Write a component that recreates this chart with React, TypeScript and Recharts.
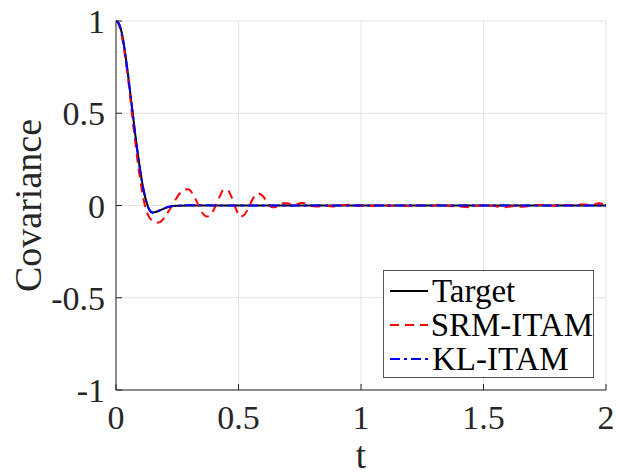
import React from 'react';
import { LineChart, Line, XAxis, YAxis, CartesianGrid } from 'recharts';

// ─── Data ─────────────────────────────────────────────────────────────────────

const X_TICKS = [0, 0.5, 1, 1.5, 2];
const Y_TICKS = [-1, -0.5, 0, 0.5, 1];

const T_TARGET = [0, 0.01, 0.02, 0.03, 0.04, 0.05, 0.06, 0.07, 0.08, 0.09, 0.1, 0.11, 0.12, 0.13, 0.14, 0.15, 0.16, 0.18, 0.2, 0.22, 0.25, 0.3, 0.5, 1, 1.5, 2];
const TARGET = [1, 0.99, 0.955, 0.89, 0.8, 0.7, 0.59, 0.48, 0.37, 0.27, 0.18, 0.1, 0.04, -0.005, -0.03, -0.038, -0.036, -0.026, -0.014, -0.006, -0.001, 0, 0, 0, 0, 0];
const KL_ITAM = [1, 0.99, 0.953, 0.888, 0.8, 0.7, 0.59, 0.48, 0.37, 0.27, 0.18, 0.1, 0.04, -0.006, -0.031, -0.039, -0.036, -0.025, -0.013, -0.005, -0.001, 0.001, 0, 0, 0, 0];

const T_SRM = [
  0, 0.01, 0.02, 0.03, 0.04, 0.05, 0.06, 0.07, 0.08, 0.09, 0.1, 0.11, 0.12, 0.13, 0.145, 0.165, 0.18, 0.2, 0.22, 0.24,
  0.26, 0.28, 0.295, 0.31, 0.33, 0.35, 0.37, 0.385, 0.4, 0.42, 0.44, 0.455, 0.47, 0.49, 0.505, 0.52, 0.54, 0.56, 0.58, 0.6,
  0.62, 0.64, 0.66, 0.68, 0.7, 0.72, 0.74, 0.76, 0.78, 0.8, 0.83, 0.86, 0.89, 0.92, 0.95, 0.98, 1.01, 1.04, 1.08, 1.12,
  1.16, 1.2, 1.24, 1.28, 1.32, 1.36, 1.4, 1.44, 1.47, 1.51, 1.55, 1.58, 1.62, 1.66, 1.7, 1.74, 1.78, 1.82, 1.86, 1.9,
  1.94, 1.97, 2,
];
const SRM_ITAM = [
  1, 0.985, 0.94, 0.87, 0.78, 0.68, 0.56, 0.44, 0.33, 0.22, 0.13, 0.05, -0.01, -0.05, -0.08, -0.093, -0.09, -0.06, -0.02, 0.025,
  0.065, 0.087, 0.088, 0.07, 0.02, -0.035, -0.06, -0.055, -0.02, 0.04, 0.085, 0.085, 0.05, -0.02, -0.06, -0.055, -0.015, 0.04, 0.065, 0.05,
  0.01, -0.01, -0.005, 0.012, 0.012, 0.005, 0.008, 0.015, 0.008, -0.003, -0.006, -0.002, -0.005, 0.002, 0.004, -0.003, 0.002, -0.003, 0.003, -0.002,
  0.002, -0.004, 0.001, -0.002, 0.003, -0.002, -0.005, -0.009, -0.002, 0.002, -0.004, -0.01, -0.004, -0.007, 0.001, 0.004, -0.002, 0.004, 0.002, 0.006,
  0.003, 0.012, 0.004,
];

const targetData = T_TARGET.map((t, i) => ({ t, v: TARGET[i] }));
const klData = T_TARGET.map((t, i) => ({ t, v: KL_ITAM[i] }));
const srmData = T_SRM.map((t, i) => ({ t, v: SRM_ITAM[i] }));

const FONT = '"Liberation Serif", "Times New Roman", serif';
const AXIS_COLOR = '#262626';

const SERIES = [
  { name: 'Target', color: '#000000', dash: undefined as string | undefined },
  { name: 'SRM-ITAM', color: '#ff0000', dash: '9 6' },
  { name: 'KL-ITAM', color: '#0000ff', dash: '10 4 3 4' },
];

// ─── Legend ───────────────────────────────────────────────────────────────────

function LegendBox() {
  return (
    <div
      style={{
        position: 'absolute', left: 383, top: 270, width: 211, height: 108,
        border: '1px solid #555', background: '#fff', fontFamily: FONT, fontSize: 33,
        color: '#000', paddingTop: 3, boxSizing: 'border-box', whiteSpace: 'nowrap',
      }}
    >
      {SERIES.map((s) => (
        <div key={s.name} style={{ display: 'flex', alignItems: 'center', height: 34, lineHeight: '34px' }}>
          <svg width={42} height={10} style={{ marginLeft: 6 }}>
            <line x1={0} y1={5} x2={38} y2={5} stroke={s.color} strokeWidth={2} strokeDasharray={s.dash} />
          </svg>
          <span>{s.name}</span>
        </div>
      ))}
    </div>
  );
}

// ─── Chart ────────────────────────────────────────────────────────────────────

export default function App() {
  return (
    <div style={{ width: 617, height: 475, position: 'relative', background: '#fff', fontFamily: FONT }}>
      <style>{'body{margin:0;} .recharts-wrapper svg text{font-family:"Liberation Serif","Times New Roman",serif;}'}</style>
      <LineChart width={617} height={475} margin={{ top: 21, right: 11, bottom: 0, left: 0 }} style={{ fontFamily: FONT }}>
        <CartesianGrid stroke="#e3e3e3" strokeWidth={1} horizontalValues={Y_TICKS} verticalValues={X_TICKS} />
        <XAxis
          dataKey="t" type="number" domain={[0, 2]} ticks={X_TICKS} allowDuplicatedCategory={false}
          height={85} tickSize={-6} tickMargin={21}
          stroke={AXIS_COLOR} tick={{ fontSize: 34, fill: AXIS_COLOR, fontFamily: FONT }}
          label={({ viewBox }: any) => (
            <text x={viewBox.x + viewBox.width / 2} y={viewBox.y + 78} textAnchor="middle"
              fontSize={37} fontFamily={FONT} fill={AXIS_COLOR}>t</text>
          )}
        />
        <YAxis
          dataKey="v" type="number" domain={[-1, 1]} ticks={Y_TICKS}
          width={116} tickSize={-6} tickMargin={17}
          stroke={AXIS_COLOR} tick={{ fontSize: 34, fill: AXIS_COLOR, fontFamily: FONT }}
          label={({ viewBox }: any) => {
            const cx = 41;
            const cy = viewBox.y + viewBox.height / 2;
            return (
              <text x={cx} y={cy} transform={`rotate(-90, ${cx}, ${cy})`} textAnchor="middle"
                fontSize={38} fontFamily={FONT} fill={AXIS_COLOR}>Covariance</text>
            );
          }}
        />
        <Line data={targetData} dataKey="v" type="monotone" stroke="#000000" strokeWidth={2}
          dot={false} isAnimationActive={false} name="Target" />
        <Line data={srmData} dataKey="v" type="monotone" stroke="#ff0000" strokeWidth={2}
          strokeDasharray="9 6" dot={false} isAnimationActive={false} name="SRM-ITAM" />
        <Line data={klData} dataKey="v" type="monotone" stroke="#0000ff" strokeWidth={2}
          strokeDasharray="10 4 3 4" dot={false} isAnimationActive={false} name="KL-ITAM" />
      </LineChart>
      <LegendBox />
    </div>
  );
}
